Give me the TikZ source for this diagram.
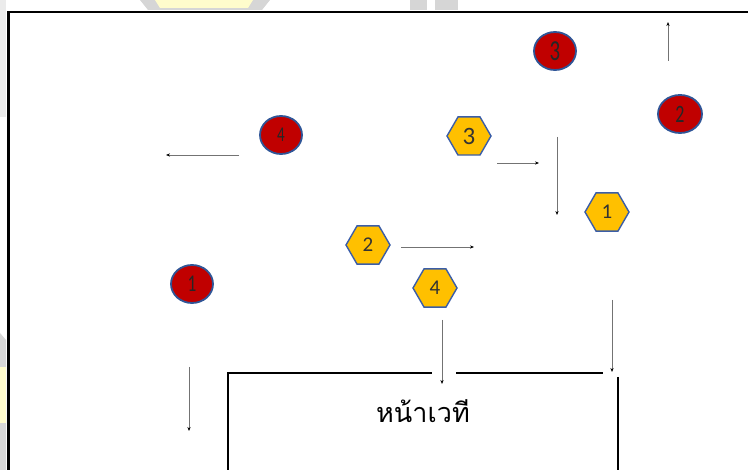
\documentclass[tikz,border=0pt]{standalone}
\usepackage{fontspec}
\newfontfamily\thaifont[Script=Thai]{Loma}
\newfontfamily\digitfont{Carlito}
\usetikzlibrary{shapes.geometric,arrows.meta}
\definecolor{seatred}{HTML}{C00000}
\definecolor{rimblue}{HTML}{2F5597}
\definecolor{hexgold}{HTML}{FFC000}
\definecolor{hexrim}{HTML}{3A5DA8}
\definecolor{wmgray}{HTML}{D6D6D6}
\definecolor{wmyellow}{HTML}{FFFCCC}
\tikzset{
  redseat/.style={ellipse, draw=rimblue, line width=1.8pt, fill=seatred,
    minimum width=42pt, minimum height=38pt, inner sep=0pt,
    text=black!85, font=\digitfont\fontsize{24}{24}\selectfont},
  goldseat/.style={regular polygon, regular polygon sides=6, draw=hexrim,
    line width=1.4pt, fill=hexgold, minimum size=44pt, inner sep=0pt,
    text=black!80, font=\digitfont\fontsize{21}{21}\selectfont},
  walk/.style={draw=black!55, line width=0.8pt,
    -{Stealth[black, length=4pt, width=3.2pt]}},
  frameline/.style={line width=2.2pt, black},
  stageline/.style={line width=2pt, black},
}
\newcommand{\talldigit}[2]{\scalebox{0.72}[1]{\fontsize{#1}{#1}\selectfont #2}}
\begin{document}
\begin{tikzpicture}[x=1pt, y=-1pt]
\useasboundingbox (0,0) rectangle (748,470);
\fill[white] (0,0) rectangle (748,470);

% faint watermark pieces around the frame
\fill[wmgray] (140,0) -- (270,0) -- (262,10) -- (148,10) -- cycle;
\fill[wmyellow] (155,0) -- (253,0) -- (248,8) -- (160,8) -- cycle;
\fill[wmgray] (410,0) rectangle (427,10);
\fill[wmgray] (435,0) rectangle (458,10);
\fill[wmgray!50] (0,0) rectangle (6,117);
\fill[wmgray] (0,333) -- (6,340) -- (6,470) -- (0,470) -- cycle;
\fill[wmyellow] (0,367) rectangle (6,423);

% outer frame
\draw[frameline] (760,12) -- (8.5,12) -- (8.5,480);

% red seats
\node[redseat] (r3) at (555,51) {\talldigit{29}{3}};
\node[redseat, minimum width=44pt] (r2) at (680,114) {\talldigit{25}{2}};
\node[redseat] (r4) at (281,135) {\talldigit{21}{4}};
\node[redseat] (r1) at (192,284) {\talldigit{24}{1}};

% gold seats
\node[goldseat] (g3) at (469,136) {\fontsize{25}{25}\selectfont 3};
\node[goldseat] (g2) at (368,245) {2};
\node[goldseat] (g1) at (607,212) {1};
\node[goldseat] (g4) at (435,288) {4};

% walking directions
\coordinate (a1s) at (668,61);  \coordinate (a1e) at (668,22);
\coordinate (a2s) at (239,155); \coordinate (a2e) at (166,155);
\coordinate (a3s) at (497,163); \coordinate (a3e) at (539,163);
\coordinate (a4s) at (557,137); \coordinate (a4e) at (557,215);
\coordinate (a5s) at (401,247); \coordinate (a5e) at (474,247);
\coordinate (a6s) at (442,320); \coordinate (a6e) at (442,384);
\coordinate (a7s) at (612,300); \coordinate (a7e) at (612,372);
\coordinate (a8s) at (189,367); \coordinate (a8e) at (189,431);
\draw[walk] (a1s) -- (a1e);
\draw[walk] (a2s) -- (a2e);
\draw[walk] (a3s) -- (a3e);
\draw[walk] (a4s) -- (a4e);
\draw[walk] (a5s) -- (a5e);
\draw[walk] (a6s) -- (a6e);
\draw[walk] (a7s) -- (a7e);
\draw[walk] (a8s) -- (a8e);

% stage
\coordinate (sbl) at (228,480);
\coordinate (stl) at (228,373);
\coordinate (sg1) at (432,373);
\coordinate (sg2) at (456,373);
\coordinate (stm) at (603,373);
\coordinate (str) at (618,377);
\coordinate (sbr) at (618,480);
\draw[stageline] (sbl) -- (stl) -- (sg1);
\draw[stageline] (sg2) -- (stm);
\draw[stageline] (str) -- (sbr);
\node[font=\thaifont\fontsize{27}{27}\selectfont, inner sep=0pt] (stage) at (423,411) {หน้าเวที};
\end{tikzpicture}
\end{document}
